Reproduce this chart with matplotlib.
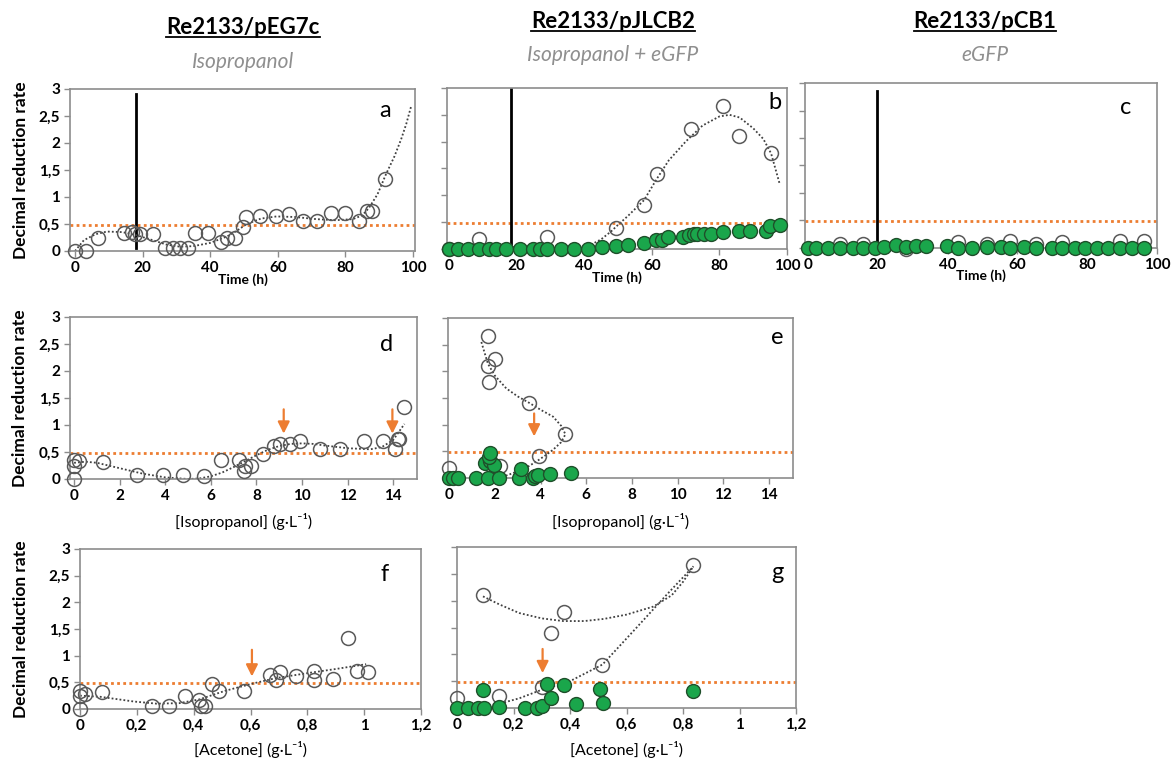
import numpy as np
import matplotlib.pyplot as plt
from matplotlib.lines import Line2D
from matplotlib.ticker import FuncFormatter

plt.rcParams['font.family'] = ['Lato', 'DejaVu Sans']
plt.rcParams['font.weight'] = 'bold'
plt.rcParams['axes.labelweight'] = 'bold'

# ---- data ----
# panel a : Re2133/pEG7c vs time
a_time = [0, 3.3, 6.8, 14.4, 16.8, 17.8, 19.3, 23.0, 26.7, 28.9, 31.1, 33.4, 35.5, 39.2, 43.3,
          44.9, 47.4, 49.7, 50.6, 54.7, 59.4, 63.4, 67.5, 71.7, 75.8, 79.9, 83.9, 86.5, 88.0, 91.8]
a_drr = [0, 0, 0.25, 0.34, 0.35, 0.32, 0.32, 0.32, 0.06, 0.06, 0.06, 0.06, 0.34, 0.34, 0.16,
         0.24, 0.24, 0.45, 0.63, 0.65, 0.65, 0.69, 0.55, 0.55, 0.70, 0.70, 0.56, 0.75, 0.75, 1.34]
a_trend_x = [0, 2.6, 6, 9.4, 14, 18.3, 23, 27, 31, 35, 40, 45, 48, 50.8, 55, 59.6, 65, 71.4,
             77, 82.2, 85, 87, 89.5, 92, 94.5, 96.5, 98, 99.5]
a_trend_y = [0.0, 0.2, 0.31, 0.36, 0.35, 0.29, 0.2, 0.12, 0.08, 0.09, 0.15, 0.27, 0.38, 0.5,
             0.6, 0.64, 0.63, 0.59, 0.57, 0.59, 0.66, 0.8, 1.05, 1.42, 1.75, 2.07, 2.35, 2.69]

# panel b : Re2133/pJLCB2 vs time
b_open_time = [0, 8.8, 29.0, 49.4, 57.7, 61.4, 71.5, 81.0, 85.7, 95.3]
b_open_drr = [0, 0.19, 0.22, 0.40, 0.82, 1.39, 2.23, 2.67, 2.10, 1.79]
b_gfp_time = [0, 2.7, 5.6, 8.8, 11.9, 13.8, 17.0, 20.9, 24.9, 26.9, 29.0, 33.0, 36.9, 41.2,
              45.2, 49.4, 53.1, 57.7, 61.1, 62.9, 64.9, 69.2, 71.1, 72.5, 73.3, 75.3, 77.5,
              81.0, 85.7, 89.1, 93.8, 95.1, 97.8]
b_gfp_drr = [0, 0, 0, 0, 0, 0, 0, 0, 0, 0, 0, 0, 0, 0, 0.03, 0.06, 0.08, 0.11, 0.17, 0.16,
             0.22, 0.22, 0.27, 0.28, 0.28, 0.28, 0.28, 0.31, 0.34, 0.34, 0.34, 0.42, 0.44]
b_trend_x = [0, 5, 10, 15, 20, 25, 30, 35, 38, 42, 45, 48, 50, 53, 57.7, 61.4, 65, 70, 75,
             80, 83, 86, 90, 93, 95.3, 97.8]
b_trend_y = [0.02, 0.07, 0.09, 0.06, 0.03, 0.01, 0.0, 0.0, 0.01, 0.08, 0.18, 0.33, 0.45,
             0.62, 0.91, 1.3, 1.65, 2.0, 2.3, 2.47, 2.5, 2.45, 2.25, 2.05, 1.78, 1.22]

# panel c : Re2133/pCB1 vs time
c_open_time = [9.1, 15.9, 28.0, 42.9, 51.2, 57.9, 65.2, 72.7, 89.3, 96.2]
c_open_drr = [0.07, 0.07, -0.02, 0.1, 0.08, 0.12, 0.08, 0.11, 0.12, 0.12]
c_gfp_time = [0, 2.2, 5.7, 9.1, 12.9, 15.9, 19.1, 21.8, 25.2, 28.0, 30.9, 33.9, 39.7, 42.9,
              47.1, 51.2, 55.2, 57.9, 61.9, 65.2, 69.9, 72.7, 76.4, 79.4, 82.8, 86.1, 89.3,
              92.8, 96.2]
c_gfp_drr = [0, 0, 0, 0, 0, 0, 0, 0.02, 0.05, 0.02, 0.04, 0.04, 0.03, 0, 0, 0.02, 0.02, 0,
             0.01, 0, 0, 0, 0, 0, 0, 0, 0, 0, 0]

# panel d : Re2133/pEG7c vs isopropanol
d_ipa = [0, 0, 0, 0.2, 1.25, 2.75, 3.88, 4.8, 5.72, 6.44, 7.25, 7.44, 7.48, 7.76, 8.29, 8.78,
         9.05, 9.46, 9.9, 10.78, 11.68, 12.74, 13.54, 14.07, 14.22, 14.26, 14.46]
d_drr = [0, 0.24, 0.36, 0.33, 0.32, 0.07, 0.07, 0.07, 0.06, 0.35, 0.35, 0.14, 0.24, 0.24, 0.47,
         0.62, 0.65, 0.65, 0.7, 0.55, 0.55, 0.7, 0.7, 0.56, 0.75, 0.75, 1.34]
d_trend_x = [0, 0.5, 1, 1.5, 2, 3, 4, 5, 5.5, 6, 6.5, 7, 7.5, 8, 8.5, 9, 9.5, 10, 10.5, 11,
             12, 13, 13.5, 14, 14.5]
d_trend_y = [0.3, 0.32, 0.3, 0.25, 0.2, 0.1, 0.03, 0.0, 0.01, 0.05, 0.12, 0.22, 0.33, 0.44,
             0.54, 0.61, 0.65, 0.66, 0.65, 0.62, 0.57, 0.55, 0.59, 0.72, 1.02]
d_arrows = [9.2, 13.97]

# panel e : Re2133/pJLCB2 vs isopropanol
e_open_ipa = [0, 1.68, 2.0, 1.71, 1.74, 3.5, 5.09, 3.94, 2.22]
e_open_drr = [0.19, 2.67, 2.24, 2.1, 1.80, 1.41, 0.82, 0.42, 0.23]
e_gfp_ipa = [0, 0.17, 0.39, 1.17, 1.68, 2.17, 3.06, 3.65, 3.75, 3.9, 4.4, 5.32, 3.16, 1.56,
             1.78, 1.95, 1.75, 1.8]
e_gfp_drr = [0, 0, 0, 0, 0, 0, 0, 0, 0.03, 0.05, 0.08, 0.09, 0.17, 0.28, 0.31, 0.25, 0.4, 0.47]
e_trend_x = [1.41, 1.55, 1.7, 2.0, 2.5, 3.0, 3.5, 4.0, 4.55, 4.9, 5.09, 4.9, 4.55, 4.2, 3.82,
             3.4, 2.95, 2.6, 2.36, 2.07]
e_trend_y = [2.55, 2.35, 2.14, 1.92, 1.68, 1.53, 1.41, 1.28, 1.15, 0.98, 0.82, 0.67, 0.53,
             0.42, 0.31, 0.2, 0.12, 0.06, 0.03, 0.0]
e_arrows = [3.72]

# panel f : Re2133/pEG7c vs acetone
f_ace = [0, 0, 0, 0.018, 0.076, 0.254, 0.313, 0.371, 0.419, 0.427, 0.441, 0.464, 0.489, 0.577,
         0.667, 0.688, 0.704, 0.76, 0.823, 0.823, 0.889, 0.944, 0.974, 1.012]
f_drr = [0, 0.24, 0.34, 0.29, 0.32, 0.05, 0.05, 0.24, 0.16, 0.05, 0.05, 0.46, 0.33, 0.33,
         0.64, 0.55, 0.69, 0.62, 0.71, 0.55, 0.57, 1.34, 0.72, 0.69]
f_trend_x = [0, 0.07, 0.19, 0.27, 0.35, 0.42, 0.51, 0.61, 0.69, 0.81, 0.9, 1.007]
f_trend_y = [0.25, 0.23, 0.14, 0.1, 0.11, 0.18, 0.34, 0.48, 0.58, 0.68, 0.75, 0.84]
f_arrows = [0.605]

# panel g : Re2133/pJLCB2 vs acetone
g_open_ace = [0.092, 0.378, 0.332, 0.515, 0.837, 0, 0.149, 0.3]
g_open_drr = [2.1, 1.79, 1.40, 0.81, 2.67, 0.19, 0.23, 0.40]
g_gfp_ace = [0, 0.039, 0.074, 0.095, 0.092, 0.148, 0.24, 0.284, 0.3, 0.332, 0.32, 0.378,
             0.421, 0.506, 0.518, 0.837]
g_gfp_drr = [0, 0, 0, 0, 0.34, 0.02, 0, 0, 0.04, 0.18, 0.45, 0.42, 0.07, 0.35, 0.09, 0.31]
g_trend1_x = [0.092, 0.15, 0.22, 0.3, 0.376, 0.45, 0.52, 0.6, 0.695, 0.76, 0.8, 0.837]
g_trend1_y = [2.08, 1.93, 1.77, 1.67, 1.62, 1.62, 1.66, 1.74, 1.89, 2.1, 2.35, 2.64]
g_trend2_x = [0, 0.05, 0.1, 0.15, 0.22, 0.3, 0.4, 0.515, 0.636, 0.742, 0.837]
g_trend2_y = [0.02, 0.02, 0.04, 0.08, 0.18, 0.34, 0.5, 0.81, 1.5, 2.11, 2.64]
g_arrows = [0.303]

induction_time = [18.0, 18.2, 19.8]
threshold = 0.49
y_ticks = [0, 0.5, 1, 1.5, 2, 2.5, 3]
time_ticks = [0, 20, 40, 60, 80, 100]
ipa_ticks = [0, 2, 4, 6, 8, 10, 12, 14]
ace_ticks = [0, 0.2, 0.4, 0.6, 0.8, 1, 1.2]

ORANGE = '#ED7D31'
GREEN = '#1aa64b'
GREY = '#8c8c8c'

W, H = 1173, 763
fig = plt.figure(figsize=(W / 100, H / 100), dpi=100)


def add_axes(left, right, top, bottom):
    return fig.add_axes([left / W, 1 - bottom / H, (right - left) / W, (bottom - top) / H])


def comma(v, pos):
    return f"{v:g}".replace('.', ',')


def style(ax, xlim, xticks, ylab, letter, lpos):
    ax.set_xlim(xlim)
    ax.set_ylim(0, 3)
    ax.set_xticks(xticks)
    ax.set_yticks(y_ticks)
    ax.xaxis.set_major_formatter(FuncFormatter(comma))
    ax.yaxis.set_major_formatter(FuncFormatter(comma))
    for s in ax.spines.values():
        s.set_color(GREY)
        s.set_linewidth(1.2)
    ax.tick_params(direction='out', length=4, width=1, color=GREY, labelsize=11, pad=3)
    if not ylab:
        ax.tick_params(axis='y', labelleft=False)
    else:
        ax.set_ylabel('Decimal reduction rate', fontsize=12.5)
    ax.axhline(threshold, color=ORANGE, lw=2, ls=(0, (1, 1.2)), zorder=1)
    ax.text(lpos[0], lpos[1], letter, transform=ax.transAxes, fontsize=17,
            fontweight='normal', ha='center', va='center')


def open_pts(ax, x, y):
    ax.plot(x, y, 'o', ms=10, mfc='none', mec='#595959', mew=1.1, clip_on=False, zorder=3)


def gfp_pts(ax, x, y):
    ax.plot(x, y, 'o', ms=10, mfc=GREEN, mec='#1f4f2a', mew=1.0, clip_on=False, zorder=4)


def trend(ax, x, y):
    ax.plot(x, y, color='#404040', lw=1.3, ls=(0, (1, 1.2)), zorder=2)


def arrows(ax, xs, ytop, ybot):
    for x in xs:
        ax.annotate('', xy=(x, ybot), xytext=(x, ytop),
                    arrowprops=dict(arrowstyle='-|>,head_width=0.35,head_length=0.7',
                                    color=ORANGE, lw=1.6, shrinkA=0, shrinkB=0))


def xlabel(ax, txt, y, bold):
    ax.text(0.5, y, txt, transform=ax.transAxes, ha='center', va='center',
            fontsize=10 if bold else 11.5, fontweight='bold' if bold else 'normal')


# row 1 : time
ax_a = add_axes(70, 415, 89, 251)
style(ax_a, (-1.5, 100.6), time_ticks, True, 'a', (0.913, 0.87))
ax_a.yaxis.set_label_coords(-0.12, 0.5)
ax_a.plot([induction_time[0]] * 2, [0.05, 2.9], color='black', lw=2)
trend(ax_a, a_trend_x, a_trend_y)
open_pts(ax_a, a_time, a_drr)
xlabel(ax_a, 'Time (h)', -0.175, True)

ax_b = add_axes(447, 787, 88, 249)
style(ax_b, (-0.6, 100), time_ticks, False, 'b', (0.965, 0.91))
ax_b.plot([induction_time[1]] * 2, [0.1, 2.98], color='black', lw=2)
trend(ax_b, b_trend_x, b_trend_y)
open_pts(ax_b, b_open_time, b_open_drr)
gfp_pts(ax_b, b_gfp_time, b_gfp_drr)
xlabel(ax_b, 'Time (h)', -0.175, True)

ax_c = add_axes(805, 1157, 83, 248)
style(ax_c, (-0.86, 100), time_ticks, False, 'c', (0.91, 0.85))
ax_c.plot([induction_time[2]] * 2, [0.0, 2.85], color='black', lw=2)
open_pts(ax_c, c_open_time, c_open_drr)
gfp_pts(ax_c, c_gfp_time, c_gfp_drr)
xlabel(ax_c, 'Time (h)', -0.17, True)

# row 2 : isopropanol
ax_d = add_axes(70, 417, 317, 479)
style(ax_d, (-0.18, 15.05), ipa_ticks, True, 'd', (0.913, 0.83))
ax_d.yaxis.set_label_coords(-0.12, 0.5)
trend(ax_d, d_trend_x, d_trend_y)
open_pts(ax_d, d_ipa, d_drr)
arrows(ax_d, d_arrows, 1.29, 0.84)
xlabel(ax_d, '[Isopropanol] (g\u00b7L\u207b\u00b9)', -0.26, False)

ax_e = add_axes(448, 793, 318, 478)
style(ax_e, (-0.05, 15.05), ipa_ticks, False, 'e', (0.954, 0.88))
trend(ax_e, e_trend_x, e_trend_y)
open_pts(ax_e, e_open_ipa, e_open_drr)
gfp_pts(ax_e, e_gfp_ipa, e_gfp_drr)
arrows(ax_e, e_arrows, 1.21, 0.78)
xlabel(ax_e, '[Isopropanol] (g\u00b7L\u207b\u00b9)', -0.27, False)

# row 3 : acetone
ax_f = add_axes(80, 421, 549, 709)
style(ax_f, (0, 1.2), ace_ticks, True, 'f', (0.894, 0.84))
ax_f.yaxis.set_label_coords(-0.15, 0.5)
trend(ax_f, f_trend_x, f_trend_y)
open_pts(ax_f, f_ace, f_drr)
arrows(ax_f, f_arrows, 1.11, 0.61)
xlabel(ax_f, '[Acetone] (g\u00b7L\u207b\u00b9)', -0.25, False)

ax_g = add_axes(457, 796, 547, 708)
style(ax_g, (0, 1.2), ace_ticks, False, 'g', (0.944, 0.84))
trend(ax_g, g_trend1_x, g_trend1_y)
trend(ax_g, g_trend2_x, g_trend2_y)
open_pts(ax_g, g_open_ace, g_open_drr)
gfp_pts(ax_g, g_gfp_ace, g_gfp_drr)
arrows(ax_g, g_arrows, 1.1, 0.65)
xlabel(ax_g, '[Acetone] (g\u00b7L\u207b\u00b9)', -0.26, False)

# column headers
headers = [('Re2133/pEG7c', 'Isopropanol', 243, 28, 62),
           ('Re2133/pJLCB2', 'Isopropanol + eGFP', 613, 22, 55),
           ('Re2133/pCB1', 'eGFP', 985, 22, 55)]
titles = []
for name, sub, cx, ty, sy in headers:
    t = fig.text(cx / W, 1 - ty / H, name, ha='center', va='center', fontsize=16,
                 fontweight='bold')
    titles.append(t)
    fig.text(cx / W, 1 - sy / H, sub, ha='center', va='center', fontsize=15,
             fontweight='normal', style='italic', color='#8f8f8f')

# underline the strain names
fig.canvas.draw()
r = fig.canvas.get_renderer()
for t in titles:
    bb = t.get_window_extent(r).transformed(fig.transFigure.inverted())
    fig.add_artist(Line2D([bb.x0, bb.x1], [bb.y0 + 0.002, bb.y0 + 0.002], color='black',
                          lw=1.3, transform=fig.transFigure))

fig.savefig('out.png', dpi=100)
